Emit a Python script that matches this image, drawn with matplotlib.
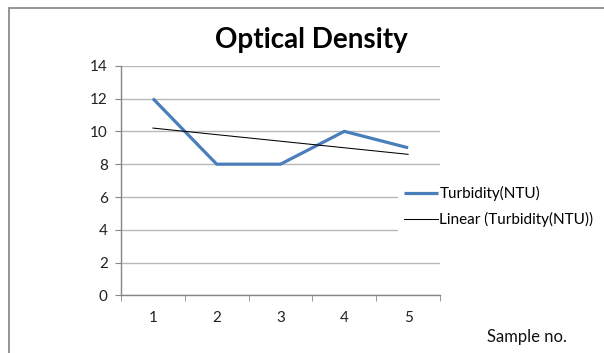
import matplotlib
matplotlib.use("Agg")
import matplotlib.pyplot as plt
import numpy as np
from matplotlib.patches import Rectangle

# sample readings
samples = [1, 2, 3, 4, 5]
turbidity = [12, 8, 8, 10, 9]
y_ticks = [0, 2, 4, 6, 8, 10, 12, 14]

plt.rcParams['font.family'] = ['Lato', 'DejaVu Sans']

fig = plt.figure(figsize=(6.04, 3.53), dpi=100)
ax = fig.add_axes([0.2003, 0.1629, 0.5282, 0.6510])

# least-squares trend, like a spreadsheet "Linear" trendline
slope, intercept = np.polyfit(samples, turbidity, 1)
trend = [slope * x + intercept for x in samples]

ax.plot(samples, turbidity, color='#4A7EBB', lw=2.3, solid_capstyle='butt',
        label='Turbidity(NTU)', zorder=3)
ax.plot(samples, trend, color='black', lw=0.75,
        label='Linear (Turbidity(NTU))', zorder=3)

ax.set_xlim(0.5, 5.5)
ax.set_ylim(0, 14)
ax.set_yticks(y_ticks)
ax.set_xticks(samples)
ax.set_xticks(np.arange(0.5, 6.0, 1.0), minor=True)
ax.tick_params(axis='x', which='major', length=0, pad=11, labelsize=11,
               colors='#222222')
ax.tick_params(axis='x', which='minor', length=4.5, color='#868686',
               direction='out')
ax.tick_params(axis='y', length=4.5, color='#868686', pad=5, labelsize=11,
               labelcolor='#222222')

ax.grid(axis='y', color='#B8B8B8', lw=1.0)
ax.set_axisbelow(True)
for side in ('top', 'right'):
    ax.spines[side].set_visible(False)
for side in ('left', 'bottom'):
    ax.spines[side].set_color('#868686')
    ax.spines[side].set_linewidth(1.0)

fig.text(0.516, 0.887, 'Optical Density', ha='center', va='center',
         fontsize=20, fontweight='bold', color='black')
fig.text(0.872, 0.045, 'Sample no.', ha='center', va='center', fontsize=12,
         color='#111111')

leg = fig.legend(loc='center left', bbox_to_anchor=(0.659, 0.415),
                 frameon=True, fancybox=False, edgecolor='none',
                 facecolor='white', framealpha=1.0, fontsize=11,
                 handlelength=2.2, handletextpad=0.1, labelspacing=0.7,
                 borderpad=0.4, borderaxespad=0)

# chart area outline
fig.add_artist(Rectangle((0.0157, -0.05), 1.1, 0.05 + 0.976,
                         transform=fig.transFigure, fill=False,
                         edgecolor='#8C8C8C', lw=1.3, clip_on=False))

fig.savefig('out.png', dpi=100)
